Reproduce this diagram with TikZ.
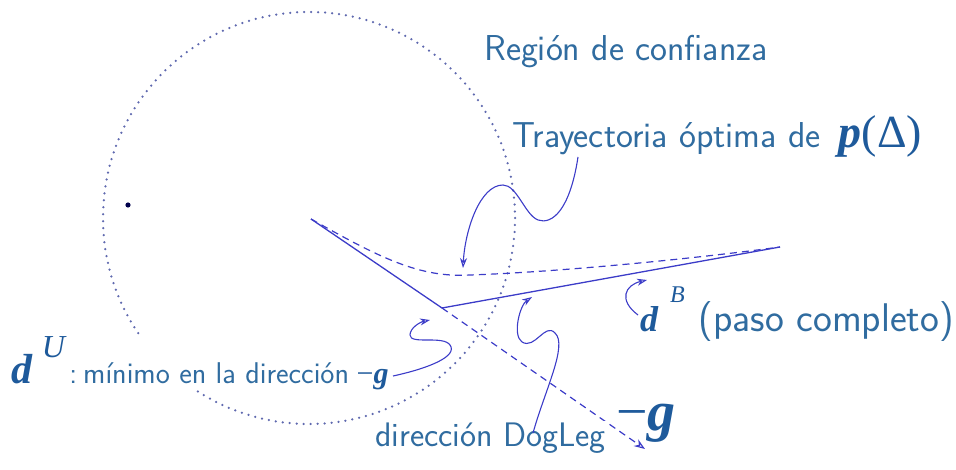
\documentclass[tikz,border=0pt]{standalone}
\usepackage{fontspec}
\newfontfamily\mathserif{Liberation Serif}
\usetikzlibrary{arrows.meta}
\definecolor{txt}{RGB}{48,108,160}
\definecolor{mth}{RGB}{30,90,155}
\definecolor{ln}{RGB}{60,60,200}
\definecolor{dotc}{RGB}{95,105,175}
\newcommand{\bd}[1]{{\mathserif\bfseries\itshape\color{mth}#1}}
\newcommand{\supl}[1]{{\mathserif\itshape\color{mth}#1}}
\begin{document}
\begin{tikzpicture}[x=1pt,y=-1pt,
  lbl/.style={text=txt,font=\sffamily,inner sep=1pt},
  main/.style={draw=ln,line width=1.3pt},
  dsh/.style={draw=ln,line width=1.2pt,dash pattern=on 7pt off 5pt},
  curvy/.style={draw=ln,line width=1.1pt,-{Stealth[length=10pt,width=7pt,open]}},
  dotted circ/.style={draw=dotc,line width=2.5pt,line cap=round,dash pattern=on 0pt off 7pt}]
\useasboundingbox (0,0) rectangle (956,470);
\coordinate (C) at (309,218);
\draw[dotted circ] (C) circle[radius=206];
\fill[black!70!blue] (128,205) circle[radius=2.6];
% lines
\coordinate (O) at (311,219);
\coordinate (K) at (442,308);
\coordinate (B) at (780,247);
\coordinate (G) at (645,449);
\draw[main] (O) -- (K) -- (B);
\draw[dsh,-{Stealth[length=11pt,width=8pt,open]}] (K) -- (G);
\draw[dsh] (O) .. controls (380,258) and (420,278) .. (470,275) .. controls (560,272) and (700,258) .. (B);
% labels
\node[lbl,fill=white,anchor=base west,font=\sffamily\fontsize{36}{38}\selectfont] (reg) at (483,61) {Región de confianza};
\node[lbl,anchor=base west,font=\sffamily\fontsize{36}{38}\selectfont] (tra) at (511,148) {Trayectoria óptima de\hspace{0.5em}{\fontsize{46}{48}\selectfont\bd{p}{\mathserif\color{mth}(Δ)}}};
\node[lbl,anchor=base west,font=\sffamily\fontsize{40}{42}\selectfont] (db) at (639,331) {{\fontsize{36}{38}\selectfont\bd{d}\raisebox{0.78em}{\fontsize{24}{26}\selectfont\hspace{0.5em}\supl{B}}}\hspace{0.35em}(paso completo)};
\node[lbl,fill=white,anchor=base west,font=\sffamily\fontsize{30}{32}\selectfont] (du) at (10,383) {{\fontsize{42}{44}\selectfont\bd{d}\raisebox{0.6em}{\fontsize{32}{32}\selectfont\hspace{0.3em}\supl{U}}}\hspace{0.15em}:\hspace{0.2em}mínimo en la dirección\hspace{0.25em}{\mathserif\color{mth}−}\bd{g}};
\node[lbl,anchor=base west,font=\sffamily\fontsize{56}{58}\selectfont] (mg) at (615,430) {{\mathserif\color{mth}−}\bd{g}};
\node[lbl,fill=white,anchor=base west,font=\sffamily\fontsize{34}{36}\selectfont] (dog) at (374,446) {dirección DogLeg};
% curvy pointers
\draw[curvy] (578,157) .. controls (570,210) and (552,225) .. (538,220) .. controls (525,215) and (517,185) .. (503,185) .. controls (480,185) and (465,230) .. (463,268);
\draw[curvy] (393,376) .. controls (430,368) and (458,356) .. (450,345) .. controls (443,335) and (410,345) .. (410,335) .. controls (410,328) and (420,322) .. (430,320);
\draw[curvy] (533,433) .. controls (545,390) and (568,345) .. (555,333) .. controls (545,322) and (535,350) .. (522,342) .. controls (512,335) and (520,305) .. (532,297);
\draw[curvy] (638,315) .. controls (618,300) and (625,285) .. (647,280);
\end{tikzpicture}
\end{document}
